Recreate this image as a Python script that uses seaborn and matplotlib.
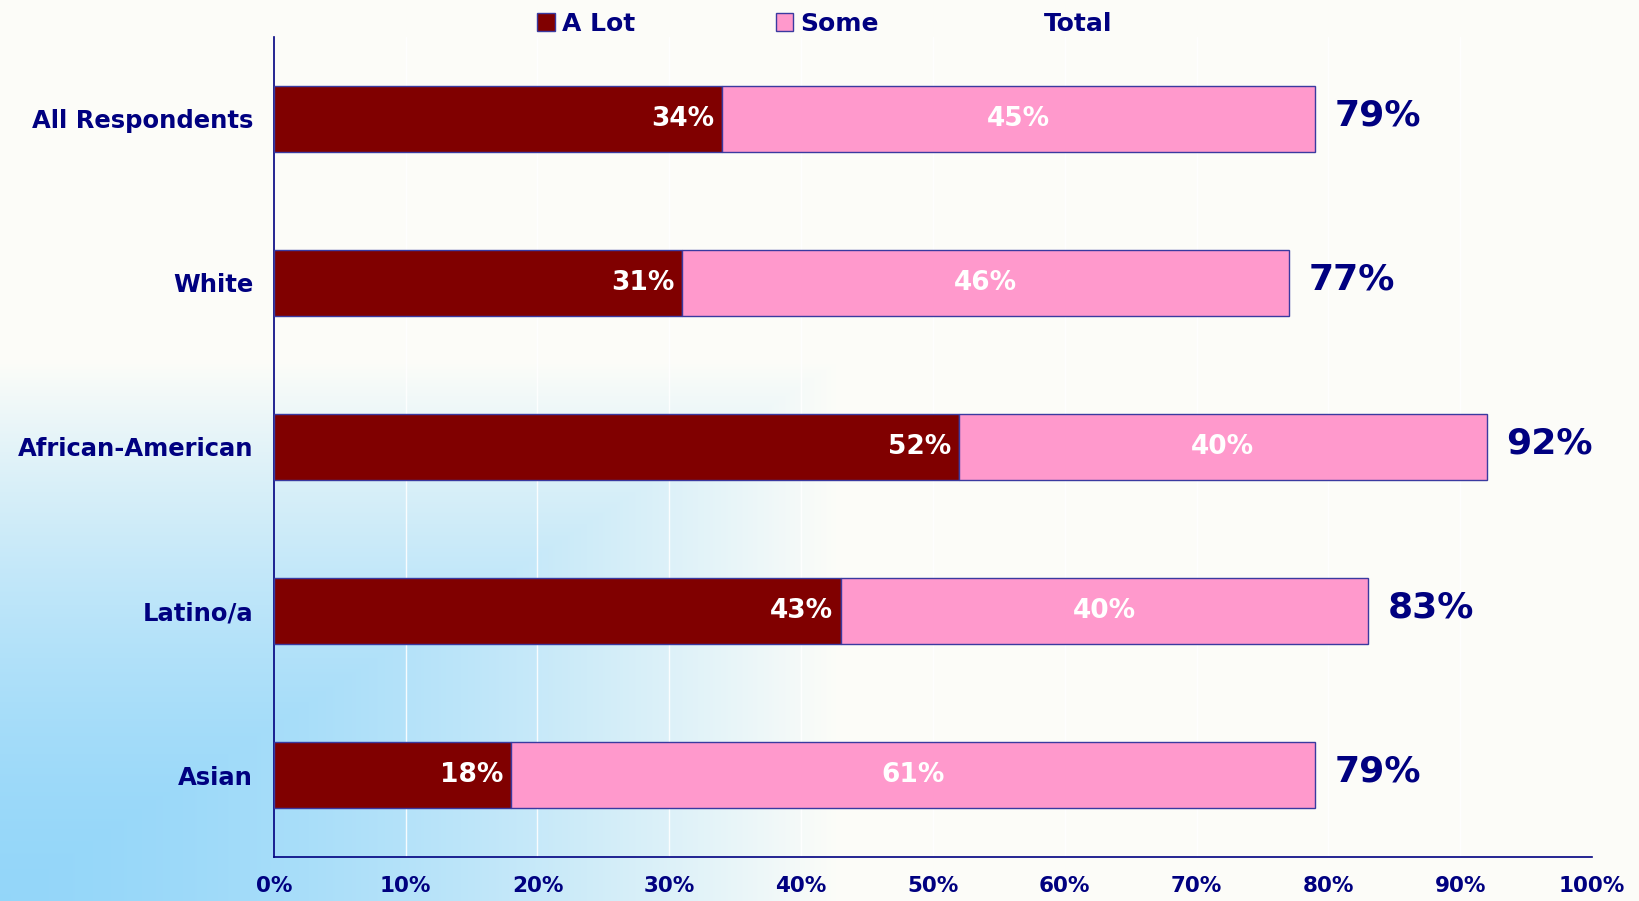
import numpy as np
import pandas as pd
import matplotlib
matplotlib.use("Agg")
import matplotlib.pyplot as plt
import seaborn as sns
from matplotlib.patches import Patch

categories = ["All Respondents", "White", "African-American", "Latino/a", "Asian"]
a_lot = [34, 31, 52, 43, 18]
some = [45, 46, 40, 40, 61]
total = [79, 77, 92, 83, 79]
xticks = [0, 10, 20, 30, 40, 50, 60, 70, 80, 90, 100]

NAVY = "#000080"
DARK = "#800000"
PINK = "#FF99CC"
EDGE = "#3A3AA0"
BG = "#FDFDF8"

sns.set_theme(style="white")
plt.rcParams['font.family'] = ['DejaVu Sans']

fig = plt.figure(figsize=(16.4, 9.01), dpi=100, facecolor=BG)

# background gradient (light blue in lower-left corner)
bg_ax = fig.add_axes([0, 0, 1, 1], zorder=-5)
H, W = 901, 1640
yy, xx = np.mgrid[0:H, 0:W]
t = np.maximum(xx / 840.0, (H - 1 - yy) / 540.0)
t = np.clip(t, 0, 1) ** 1.6
c0 = np.array([0.58, 0.84, 0.98])
c1 = np.array([0.992, 0.992, 0.973])
img = c0[None, None, :] * (1 - t[..., None]) + c1[None, None, :] * t[..., None]
bg_ax.imshow(img, aspect="auto", extent=[0, 1, 0, 1])
bg_ax.axis("off")

ax = fig.add_axes([0.167, 0.0488, 0.8037, 0.9102])
ax.set_facecolor("none")

df = pd.DataFrame({"cat": categories, "a_lot": a_lot, "some": some, "total": total})

sns.barplot(data=df, x="a_lot", y="cat", orient="h", color=DARK, width=0.4,
            edgecolor=EDGE, linewidth=1, saturation=1, ax=ax, zorder=3)
ax.barh(np.arange(len(categories)), df["some"], left=df["a_lot"], height=0.4,
        color=PINK, edgecolor=EDGE, linewidth=1, zorder=3)

ax.set_xlim(0, 100)
ax.set_ylim(4.5, -0.5)
ax.set_xticks(xticks)
ax.set_xticklabels([f"{v}%" for v in xticks], fontsize=15.5, fontweight="bold", color=NAVY)
ax.set_yticks(np.arange(len(categories)))
ax.set_yticklabels(categories, fontsize=17.5, fontweight="bold", color=NAVY)
ax.set_yticks(np.arange(len(categories) - 1) + 0.5, minor=True)
ax.tick_params(axis="y", which="major", length=0, pad=15)
ax.tick_params(axis="y", which="minor", length=7, width=1, color=NAVY, direction="out")
ax.tick_params(axis="x", which="major", length=7, width=1, color=NAVY, direction="inout", pad=10)
ax.set_xlabel("")
ax.set_ylabel("")
for v in xticks[1:]:
    ax.axvline(v, color="white", lw=1, zorder=1, alpha=0.9)

for s in ["top", "right"]:
    ax.spines[s].set_visible(False)
for s in ["left", "bottom"]:
    ax.spines[s].set_color(NAVY)
    ax.spines[s].set_linewidth(1.2)

for i in range(len(categories)):
    ax.text(a_lot[i] - 0.6, i, f"{a_lot[i]}%", ha="right", va="center",
            fontsize=19, fontweight="bold", color="white", zorder=5)
    ax.text(a_lot[i] + some[i] / 2, i, f"{some[i]}%", ha="center", va="center",
            fontsize=19, fontweight="bold", color="white", zorder=5)
    ax.text(total[i] + 1.5, i - 0.02, f"{total[i]}%", ha="left", va="center",
            fontsize=26, fontweight="bold", color=NAVY, zorder=5)

handles = [Patch(facecolor=DARK, edgecolor=EDGE), Patch(facecolor=PINK, edgecolor=EDGE),
           Patch(facecolor="none", edgecolor="none")]
leg = fig.legend(handles, ["A Lot", "Some", "Total"], ncol=3, loc="upper center",
                 bbox_to_anchor=(0.503, 1.012), frameon=False, handlelength=0.7,
                 handleheight=0.7, handletextpad=0.3, columnspacing=5.6,
                 prop={"size": 18, "weight": "bold"})
for txt in leg.get_texts():
    txt.set_color(NAVY)

fig.savefig("out.png", dpi=100, facecolor=BG)
